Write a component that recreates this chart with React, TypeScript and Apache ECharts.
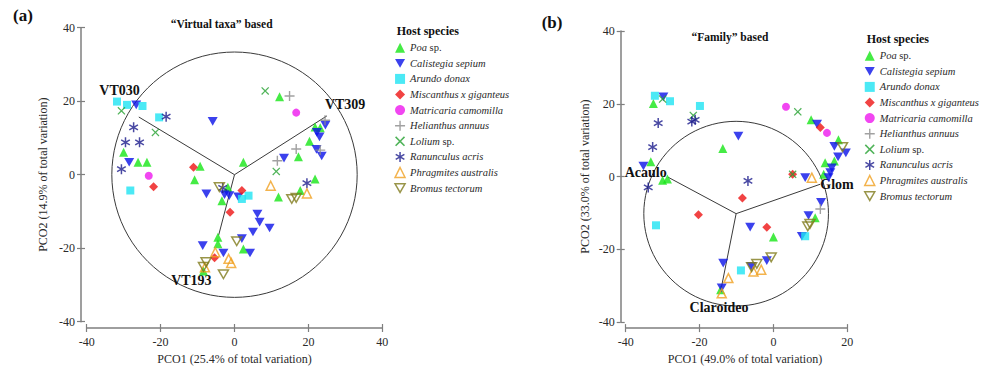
import React, { useEffect, useRef } from "react";
import * as echarts from "echarts";

// Host species, in legend order
const SPECIES = [
  "Poa sp.",
  "Calistegia sepium",
  "Arundo donax",
  "Miscanthus x giganteus",
  "Matricaria camomilla",
  "Helianthus annuus",
  "Lolium sp.",
  "Ranunculus acris",
  "Phragmites australis",
  "Bromus tectorum",
];

const AXIS_TICKS = [-40, -20, 0, 20, 40];

// (a) "Virtual taxa" based PCO scores: [PCO1, PCO2]
const A_POA = [[-30.0, 6.1], [-26.1, 3.4], [-23.7, 3.4], [-9.3, 2.3], [-10.8, -1.4], [2.4, 3.4], [12.2, 21.2], [20.3, 9.1], [17.3, 4.9], [21.8, 13.0], [23.2, 12.8], [21.8, -1.2], [17.8, -4.3], [11.9, -6.1], [-1.8, -3.4], [-3.4, -7.1], [-4.5, -17.0], [-4.5, -18.8], [2.4, -20.2], [-8.4, -26.2]];
const A_CALISTEGIA = [[-26.6, 19.0], [-5.9, 14.5], [-28.5, 3.4], [-7.6, -5.2], [-2.7, -5.4], [-1.4, -5.7], [1.0, -6.0], [-8.6, -19.3], [-3.0, -21.3], [2.0, -17.4], [4.2, -21.3], [5.0, -15.6], [6.2, -10.7], [6.8, -12.9], [9.5, -14.5], [13.4, 4.5], [22.3, 11.5], [23.0, 10.3], [24.6, 13.5], [22.2, 6.9], [23.6, 5.1]];
const A_ARUNDO = [[-31.8, 19.9], [-29.1, 19.0], [-24.9, 18.7], [-20.4, 15.6], [-28.2, -4.3], [2.0, -6.6], [3.8, -5.7]];
const A_MISCANTHUS = [[-11.1, 2.0], [-21.9, -3.3], [2.0, -4.3], [-1.2, -10.2], [-5.4, -22.6]];
const A_MATRICARIA = [[-23.2, -0.3], [16.7, 16.9]];
const A_HELIANTHUS = [[14.9, 21.4], [24.5, 14.8], [23.2, 6.7], [16.7, 7.0], [11.6, 3.8]];
const A_LOLIUM = [[-30.6, 17.4], [-21.4, 11.5], [8.3, 22.8], [11.3, 0.9]];
const A_RANUNCULUS = [[-18.5, 15.8], [-27.3, 12.9], [-29.5, 8.8], [-25.7, 8.8], [-30.6, 1.5], [-3.2, -3.6], [19.6, -2.3]];
const A_PHRAGMITES = [[9.8, -3.0], [19.6, -5.1], [-5.2, -21.1], [-1.6, -22.9], [-0.9, -24.0], [-8.0, -25.2]];
const A_BROMUS = [[-4.1, -3.4], [15.5, -6.6], [16.7, -6.3], [0.6, -18.1], [-7.7, -23.8], [-8.4, -25.1], [-3.0, -27.1]];

// (a) correlation circle and vectors
const A_CIRCLE = [0, 0, 33.2];
const A_VECTOR_NAMES = ["VT030", "VT309", "VT193"];
const A_VECTOR_X = [-25.9, 25.0, -4.3];
const A_VECTOR_Y = [15.7, 16.0, -16.5];
const A_ORIGIN = [0, 0];

// (b) "Family" based PCO scores: [PCO1, PCO2]
const B_POA = [[-32.5, 20.1], [-33.2, 4.1], [-30.0, -1.0], [-28.7, -0.7], [-13.7, 7.7], [-14.3, -31.1], [10.2, 15.6], [17.6, 10.1], [16.5, 4.3], [14.0, 3.8], [13.6, 0.6], [11.3, -11.3], [0.0, -16.6]];
const B_CALISTEGIA = [[-29.8, 21.9], [-35.2, 2.9], [-9.5, 11.1], [-13.6, -23.8], [-14.0, -30.6], [11.8, 14.4], [16.5, 8.3], [19.6, 6.5], [17.5, 5.4], [15.8, 2.4], [15.4, 1.1], [14.9, -0.3], [8.6, -0.3], [12.9, -7.1], [9.5, -10.7], [7.7, -16.4], [-6.3, -13.9], [-1.8, -23.1], [-6.0, -24.7]];
const B_ARUNDO = [[-32.1, 22.2], [-28.0, 20.7], [-19.9, 19.4], [-31.8, -13.4], [8.6, -16.4], [-8.8, -25.8]];
const B_MISCANTHUS = [[12.7, 13.5], [5.2, 0.6], [-8.4, -5.9], [-20.3, -10.5], [-1.8, -13.9]];
const B_MATRICARIA = [[3.4, 19.2], [14.5, 12.0]];
const B_HELIANTHUS = [[12.7, -8.9]];
const B_LOLIUM = [[-30.0, 21.3], [-21.7, 16.8], [6.6, 17.8], [5.2, 0.6]];
const B_RANUNCULUS = [[-22.1, 15.1], [-21.2, 15.6], [-31.2, 14.7], [-32.7, 8.1], [-33.9, -3.0], [-6.9, -1.2]];
const B_PHRAGMITES = [[10.4, -0.3], [-12.2, -27.9], [-14.0, -32.1], [-3.3, -25.6], [-5.4, -26.1]];
const B_BROMUS = [[18.7, 8.1], [9.9, -13.0], [9.3, -13.7], [-0.6, -22.2], [-4.5, -24.0], [-5.9, -24.9]];

// (b) correlation circle and vectors
const B_CIRCLE = [-10.1, -10.2, 25];
const B_VECTOR_NAMES = ["Acaulo", "Glom", "Claroideo"];
const B_VECTOR_X = [-28.5, 12.7, -14.2];
const B_VECTOR_Y = [-0.2, -2.1, -31.0];
const B_ORIGIN = [-10.1, -10.2];

const A_SCORES = [A_POA, A_CALISTEGIA, A_ARUNDO, A_MISCANTHUS, A_MATRICARIA, A_HELIANTHUS, A_LOLIUM, A_RANUNCULUS, A_PHRAGMITES, A_BROMUS];
const B_SCORES = [B_POA, B_CALISTEGIA, B_ARUNDO, B_MISCANTHUS, B_MATRICARIA, B_HELIANTHUS, B_LOLIUM, B_RANUNCULUS, B_PHRAGMITES, B_BROMUS];

const SERIF = "Liberation Serif, Times New Roman, serif";
const AXIS_GRAY = "#7f7f7f";
const TEXT = "#2a2a2a";

// marker shapes
const DOWN_TRIANGLE = "path://M0,0L10,0L5,8.66Z";
const PLUS = "path://M4.3,0H5.7V4.3H10V5.7H5.7V10H4.3V5.7H0V4.3H4.3Z";
const CROSS = "path://M1.1,0L5,3.9L8.9,0L10,1.1L6.1,5L10,8.9L8.9,10L5,6.1L1.1,10L0,8.9L3.9,5L0,1.1Z";

function asteriskPath(): string {
  const half = 5;
  const w = 0.75;
  const parts: string[] = [];
  [90, 30, 150].forEach((deg) => {
    const t = (deg * Math.PI) / 180;
    const ux = Math.cos(t), uy = Math.sin(t);
    const vx = -uy, vy = ux;
    const pts = [
      [5 + half * ux + w * vx, 5 + half * uy + w * vy],
      [5 + half * ux - w * vx, 5 + half * uy - w * vy],
      [5 - half * ux - w * vx, 5 - half * uy - w * vy],
      [5 - half * ux + w * vx, 5 - half * uy + w * vy],
    ];
    parts.push(
      "M" + pts.map((p) => p[0].toFixed(3) + "," + p[1].toFixed(3)).join("L") + "Z"
    );
  });
  return "path://" + parts.join("");
}
const ASTERISK = asteriskPath();

const TRANSPARENT = "rgba(0,0,0,0)";

type MarkerStyle = { symbol: string; size: number; color: string; open?: boolean };

const MARKERS: Record<string, MarkerStyle> = {
  "Poa sp.": { symbol: "triangle", size: 9, color: "#16e616" },
  "Calistegia sepium": { symbol: DOWN_TRIANGLE, size: 10, color: "#0a12e8" },
  "Arundo donax": { symbol: "rect", size: 8, color: "#1ee4f2" },
  "Miscanthus x giganteus": { symbol: "diamond", size: 9, color: "#ee1414" },
  "Matricaria camomilla": { symbol: "circle", size: 8, color: "#ee18ee" },
  "Helianthus annuus": { symbol: PLUS, size: 10, color: "#8a8a8a" },
  "Lolium sp.": { symbol: CROSS, size: 8, color: "#24a030" },
  "Ranunculus acris": { symbol: ASTERISK, size: 10, color: "#1c1c8c" },
  "Phragmites australis": { symbol: "triangle", size: 9, color: "#f0a020", open: true },
  "Bromus tectorum": { symbol: DOWN_TRIANGLE, size: 10, color: "#807a1c", open: true },
};

function markerItemStyle(m: MarkerStyle) {
  return m.open
    ? { color: TRANSPARENT, borderColor: m.color, borderWidth: 1.5 }
    : { color: m.color, borderWidth: 0 };
}

// placement of the vector labels relative to the vector tips (pixels)
const VECTOR_LABEL_PLACEMENT: Record<string, { dx: number; dy: number; align: string }> = {
  VT030: { dx: 1, dy: -27, align: "right" },
  VT309: { dx: -2, dy: -11, align: "left" },
  VT193: { dx: -7, dy: 45, align: "right" },
  Acaulo: { dx: -1.5, dy: -5, align: "right" },
  Glom: { dx: 0, dy: 0, align: "left" },
  Claroideo: { dx: -2, dy: 18, align: "center" },
};

function buildAxes(
  gridIndex: number,
  xMax: number,
  xName: string,
  yName: string,
  xOffset: number,
  yOffset: number,
  xNameGap: number,
  yNameGap: number,
  xNamePad: number
) {
  const labelStyle = { fontFamily: SERIF, fontSize: 12, color: TEXT };
  const tick = { color: AXIS_GRAY, width: 1.2 };
  const xMain = {
    type: "value",
    gridIndex,
    position: "bottom",
    min: AXIS_TICKS[0],
    max: xMax,
    interval: 20,
    offset: xOffset,
    name: xName,
    nameLocation: "middle",
    nameGap: xNameGap,
    nameTextStyle: { fontFamily: SERIF, fontSize: 12, color: TEXT, padding: [0, 0, 0, xNamePad] },
    axisLine: { show: true, onZero: false, lineStyle: { color: AXIS_GRAY, width: 1.5 } },
    axisTick: { show: true, inside: false, length: 4, lineStyle: tick },
    axisLabel: { ...labelStyle, margin: 8 },
    splitLine: { show: false },
  };
  const xInner = {
    type: "value",
    gridIndex,
    position: "bottom",
    min: AXIS_TICKS[0],
    max: xMax,
    interval: 20,
    offset: xOffset,
    axisLine: { show: false, onZero: false },
    axisTick: { show: true, inside: true, length: 4, lineStyle: tick },
    axisLabel: { show: false },
    splitLine: { show: false },
  };
  const yMain = {
    type: "value",
    gridIndex,
    position: "left",
    min: AXIS_TICKS[0],
    max: AXIS_TICKS[AXIS_TICKS.length - 1],
    interval: 20,
    offset: yOffset,
    name: yName,
    nameLocation: "middle",
    nameGap: yNameGap,
    nameTextStyle: { fontFamily: SERIF, fontSize: 12, color: TEXT },
    axisLine: { show: true, onZero: false, lineStyle: { color: AXIS_GRAY, width: 1.5 } },
    axisTick: { show: true, inside: false, length: 4, lineStyle: tick },
    axisLabel: { ...labelStyle, margin: 6 },
    splitLine: { show: false },
  };
  const yInner = {
    type: "value",
    gridIndex,
    position: "left",
    min: AXIS_TICKS[0],
    max: AXIS_TICKS[AXIS_TICKS.length - 1],
    interval: 20,
    offset: yOffset,
    axisLine: { show: false, onZero: false },
    axisTick: { show: true, inside: true, length: 4, lineStyle: tick },
    axisLabel: { show: false },
    splitLine: { show: false },
  };
  return { x: [xMain, xInner], y: [yMain, yInner] };
}

function scatterSeries(scores: number[][][], axisIndex: number) {
  return SPECIES.map((name, i) => {
    const m = MARKERS[name];
    return {
      type: "scatter",
      name,
      xAxisIndex: axisIndex,
      yAxisIndex: axisIndex,
      symbol: m.symbol,
      symbolSize: m.size,
      symbolKeepAspect: true,
      itemStyle: markerItemStyle(m),
      data: scores[i],
      z: 3,
      silent: true,
    };
  });
}

function circleSeries(circle: number[], axisIndex: number) {
  return {
    type: "custom",
    coordinateSystem: "cartesian2d",
    xAxisIndex: axisIndex,
    yAxisIndex: axisIndex,
    data: [circle],
    clip: false,
    silent: true,
    z: 1,
    renderItem: (_params: any, api: any) => {
      const c = api.coord([api.value(0), api.value(1)]);
      const r = api.size([api.value(2), 0])[0];
      return {
        type: "circle",
        shape: { cx: c[0], cy: c[1], r },
        style: { fill: "none", stroke: "#3a3a3a", lineWidth: 1 },
      };
    },
  };
}

function vectorSeries(names: string[], xs: number[], ys: number[], origin: number[], axisIndex: number) {
  return {
    type: "custom",
    coordinateSystem: "cartesian2d",
    xAxisIndex: axisIndex,
    yAxisIndex: axisIndex,
    data: names.map((n, i) => ({ name: n, value: [origin[0], origin[1], xs[i], ys[i]] })),
    clip: false,
    silent: true,
    z: 2,
    renderItem: (params: any, api: any) => {
      const o = api.coord([api.value(0), api.value(1)]);
      const e = api.coord([api.value(2), api.value(3)]);
      const name = names[params.dataIndex];
      const p = VECTOR_LABEL_PLACEMENT[name];
      return {
        type: "group",
        children: [
          {
            type: "line",
            shape: { x1: o[0], y1: o[1], x2: e[0], y2: e[1] },
            style: { stroke: "#3a3a3a", lineWidth: 1 },
          },
          {
            type: "text",
            x: e[0] + p.dx,
            y: e[1] + p.dy,
            style: {
              text: name,
              fill: "#111",
              font: `bold 14px ${SERIF}`,
              align: p.align,
              textAlign: p.align,
              verticalAlign: "middle",
              textVerticalAlign: "middle",
            },
          },
        ],
      };
    },
  };
}

function legendFor(left: number, top: number) {
  const base = { fontFamily: SERIF, fontSize: 10.5, color: TEXT, lineHeight: 14 };
  return {
    left,
    top,
    orient: "vertical",
    padding: 0,
    itemWidth: 10,
    itemHeight: 10,
    itemGap: 1.6,
    itemTextGap: 5.5,
    selectedMode: false,
    data: SPECIES.map((name) => {
      const m = MARKERS[name];
      return { name, icon: m.symbol, itemStyle: markerItemStyle(m) };
    }),
    // genus names in italics, "sp." upright
    formatter: (name: string) =>
      name.endsWith(" sp.") ? `{i|${name.slice(0, -4)}}{n| sp.}` : `{i|${name}}`,
    textStyle: {
      ...base,
      fontStyle: "italic",
      rich: {
        i: { ...base, fontStyle: "italic" },
        n: { ...base, fontStyle: "normal" },
      },
    },
  };
}

function staticText(text: string, x: number, y: number, size: number, align: string) {
  return {
    type: "text",
    x,
    y,
    silent: true,
    style: {
      text,
      fill: "#111",
      font: `bold ${size}px ${SERIF}`,
      align,
      textAlign: align,
      verticalAlign: "middle",
      textVerticalAlign: "middle",
    },
  };
}

export default function App() {
  const ref = useRef<HTMLDivElement>(null);

  useEffect(() => {
    if (!ref.current) return;
    const chart = echarts.init(ref.current, undefined, { renderer: "svg" });

    const axesA = buildAxes(0, 40, "PCO1 (25.4% of total variation)", "PCO2 (14.9% of total variation)", 6.3, 5.7, 25, 32, 0);
    const axesB = buildAxes(1, 20, "PCO1 (49.0% of total variation)", "PCO2 (33.0% of total variation)", 6, 5, 22, 30, 17);

    chart.setOption({
      animation: false,
      backgroundColor: "#ffffff",
      grid: [
        { left: 86.7, top: 27.7, width: 295.6, height: 294.3, containLabel: false },
        { left: 625.7, top: 31, width: 221.6, height: 294.7, containLabel: false },
      ],
      xAxis: [...axesA.x, ...axesB.x],
      yAxis: [...axesA.y, ...axesB.y],
      legend: [legendFor(394.3, 40.7), legendFor(864, 48.7)],
      graphic: [
        staticText("(a)", 13, 15, 17, "left"),
        staticText("(b)", 541.7, 22.3, 17, "left"),
        staticText("\u201cVirtual taxa\u201d based", 221.7, 24, 11.5, "center"),
        staticText("\u201cFamily\u201d based", 730, 37.3, 11.5, "center"),
        staticText("Host species", 396.7, 31, 12, "left"),
        staticText("Host species", 866.7, 39, 12, "left"),
      ],
      series: [
        circleSeries(A_CIRCLE, 0),
        vectorSeries(A_VECTOR_NAMES, A_VECTOR_X, A_VECTOR_Y, A_ORIGIN, 0),
        ...scatterSeries(A_SCORES, 0),
        circleSeries(B_CIRCLE, 2),
        vectorSeries(B_VECTOR_NAMES, B_VECTOR_X, B_VECTOR_Y, B_ORIGIN, 2),
        ...scatterSeries(B_SCORES, 2),
      ],
    });

    return () => chart.dispose();
  }, []);

  return (
    <div
      ref={ref}
      style={{ position: "fixed", left: 0, top: 0, width: 982, height: 370, background: "#fff" }}
    />
  );
}
